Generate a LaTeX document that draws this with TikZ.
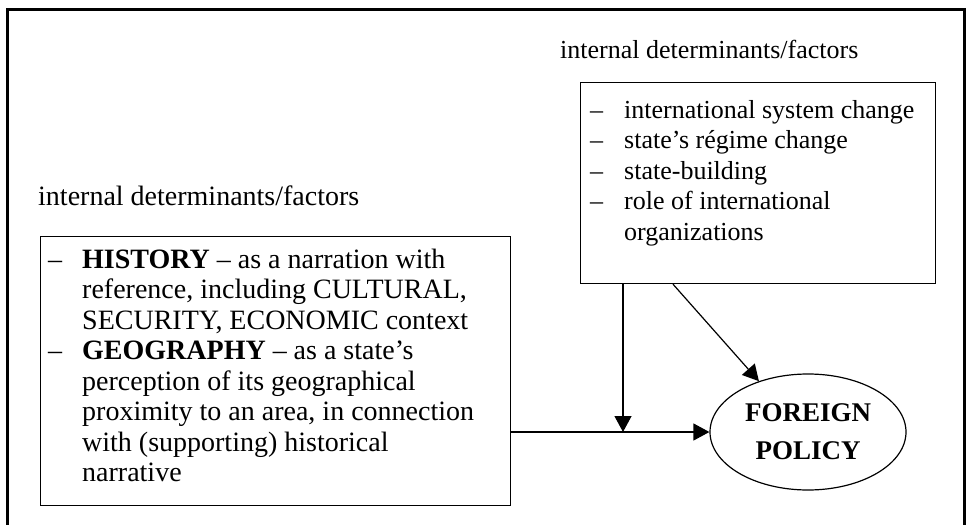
\documentclass[tikz,border=0pt]{standalone}
\usepackage{fontspec}
\setmainfont{Liberation Serif}
\usetikzlibrary{arrows.meta,shapes.geometric}
\tikzset{
  x=1pt, y=1pt,
  boxframe/.style={draw, line width=1.2pt, rectangle, inner sep=0pt, anchor=north west},
  bodytext/.style={inner sep=0pt, anchor=base west, font=\fontsize{28}{30.5}\selectfont},
  smalltext/.style={inner sep=0pt, anchor=base west, font=\fontsize{26}{30.5}\selectfont},
  conn/.style={line width=1.2pt, -{Triangle[length=16pt,width=17pt]}},
}
\begin{document}
\begin{tikzpicture}
\useasboundingbox (0,0) rectangle (967,-525);
% outer frame (open at the bottom)
\draw[line width=3pt] (7,-525) -- (7,-9) -- (964,-9) -- (964,-525);

% top label and right box
\node[smalltext] (toplabel) at (560,-58) {internal determinants/factors};
\node[boxframe, minimum width=355pt, minimum height=201pt] (rbox) at (580,-82) {};
\node[smalltext] (rtext) at (590,-118) {\begin{tabular}[t]{@{}p{34pt}@{}l@{}}
– & international system change\\
– & state’s régime change\\
– & state-building\\
– & role of international\\
  & organizations
\end{tabular}};

% left label and left box
\node[bodytext] (leftlabel) at (38,-205) {internal determinants/factors};
\node[boxframe, minimum width=470pt, minimum height=269pt] (lbox) at (40,-236) {};
\node[bodytext] (ltext) at (48,-268) {\begin{tabular}[t]{@{}p{34pt}@{}l@{}}
– & \textbf{HISTORY} – as a narration with\\
  & reference, including CULTURAL,\\
  & SECURITY, ECONOMIC context\\
– & \textbf{GEOGRAPHY} – as a state’s\\
  & perception of its geographical\\
  & proximity to an area, in connection\\
  & with (supporting) historical\\
  & narrative
\end{tabular}};

% foreign policy ellipse
\node[draw, ellipse, line width=1.2pt, minimum width=196pt, minimum height=116pt, inner sep=0pt,
      align=center, font=\bfseries\fontsize{27}{38}\selectfont] (fp) at (808,-432) {FOREIGN\\POLICY};

% connectors
\coordinate (vstart) at ([xshift=43pt]rbox.south west);
\coordinate (dstart) at ([xshift=93pt]rbox.south west);
\draw[conn] (fp.west -| lbox.east) -- (fp.west);
\draw[conn] (vstart) -- (vstart |- fp.west);
\draw[conn] (dstart) -- (fp.134);
\end{tikzpicture}
\end{document}
